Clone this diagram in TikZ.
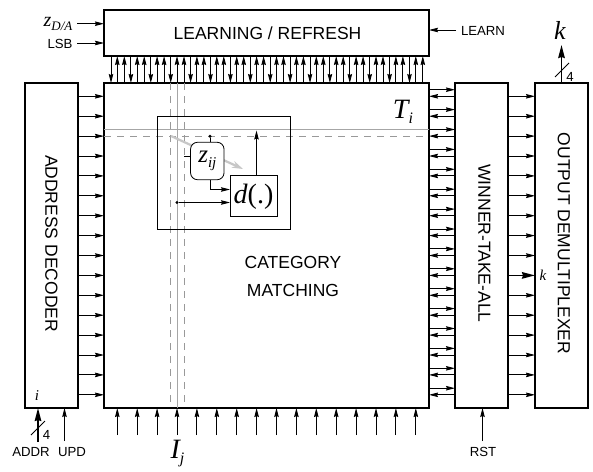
\documentclass[tikz,border=0pt]{standalone}
\usepackage{fontspec}
\setmainfont{Liberation Sans}
\newfontfamily\mathserif[ItalicFont=Liberation Serif Italic]{Liberation Serif}
\usetikzlibrary{arrows.meta,calc}
\newcommand{\mi}[1]{{\mathserif\itshape #1}}
\tikzset{
  x=1pt,y=-1pt,
  blockbox/.style={draw=black,line width=1.8pt,fill=white,inner sep=0pt,outer sep=0pt,anchor=north west,align=center},
  thinbox/.style={draw=black,line width=0.9pt,inner sep=0pt,outer sep=0pt,anchor=north west},
  sig/.style={line width=0.9pt,-{Stealth[length=9pt,width=4.5pt,inset=1pt]}},
  bigsig/.style={line width=1.8pt,-{Stealth[length=13pt,width=6.5pt,inset=1pt]}},
  wire/.style={line width=0.9pt},
  guide/.style={draw=black!35,line width=0.8pt},
  guidedash/.style={draw=black!40,line width=0.7pt,dash pattern=on 7pt off 6pt},
  lab/.style={inner sep=0pt,font=\fontsize{13.2}{15}\selectfont},
  blk/.style={inner sep=0pt,font=\fontsize{17.5}{20}\selectfont},
  ptdot/.style={circle,fill=black,inner sep=0pt,minimum size=3.4pt},
}
\begin{document}
\begin{tikzpicture}
\useasboundingbox (0,0) rectangle (593,471);
\fill[white] (0,0) rectangle (593,471);
% blocks
\node[blockbox,minimum width=325pt,minimum height=46pt] (learn) at (104,10) {};
\node[blk] (learntext) at (267.5,33) {LEARNING / REFRESH};
\node[blockbox,minimum width=325pt,minimum height=325pt] (match) at (104,83) {};
\node[blockbox,minimum width=53pt,minimum height=325pt] (addr) at (25,83) {};
\node[blockbox,minimum width=53pt,minimum height=325pt] (wta) at (455,83) {};
\node[blockbox,minimum width=53pt,minimum height=325pt] (out) at (535,83) {};
\node[blk,rotate=-90] (addrtext) at (51.5,243.5) {ADDRESS DECODER};
\node[blk,rotate=-90] (wtatext) at (484.5,243.5) {WINNER-TAKE-ALL};
\node[blk,rotate=-90] (outtext) at (564,243.5) {OUTPUT DEMULTIPLEXER};
\node[blk,align=center] (cat) at (293,262) {CATEGORY};
\node[blk,align=center] (mat) at (293,290) {MATCHING};
% guides
\coordinate (vt) at (177.5,83); \coordinate (vb) at (177.5,408);
\coordinate (hl) at (104,129.5); \coordinate (hr) at (429,129.5);
\draw[guide] (vt) -- (vb);
\draw[guide] (hl) -- (hr);
\draw[guidedash] ([xshift=-7pt]vt) -- ([xshift=-7pt]vb);
\draw[guidedash] ([xshift=6.5pt]vt) -- ([xshift=6.5pt]vb);
\draw[guidedash] ([yshift=-6.5pt]hl) -- ([yshift=-6.5pt]hr);
% inner cell
\node[thinbox,minimum width=133pt,minimum height=112.5pt] (cell) at (157.3,116.5) {};
\coordinate (ga) at (171,136); \coordinate (gb) at (243,169);
\draw[line width=2.2pt,black!22,-{Stealth[length=11pt,width=7pt]}] (ga) -- (gb);
\node[draw=black,line width=0.8pt,rounded corners=7pt,fill=white,minimum width=33.5pt,minimum height=37.5pt,inner sep=0pt,outer sep=0pt] (z) at (207.3,161) {\fontsize{25}{26}\selectfont\mi{z}\raisebox{-5pt}{\fontsize{15}{15}\selectfont\mi{ij}}};
\node[thinbox,fill=white,minimum width=47pt,minimum height=40.5pt] (d) at (230,175.7) {};
\node[inner sep=0pt] (dtext) at (253.5,197) {\fontsize{28}{29}\selectfont\mi{d}\mathserif(.)};
\node[ptdot] (topdot) at (210,136.3) {};
\node[ptdot] (leftdot) at (177,202.5) {};
\coordinate (zstub) at (184,156);
\draw[wire] (topdot) -- (topdot |- z.north);
\draw[wire] (zstub) -- (zstub -| z.west);
\draw[sig] ([xshift=3pt]z.south) |- ([yshift=-13.8pt]d.north west);
\draw[sig] (leftdot) -- (leftdot -| d.west);
\coordinate (dout) at (256.5,130.5);
\draw[sig] (dout |- d.north) -- (dout);
% row arrows
\foreach \k in {0,...,15}{
  \pgfmathsetmacro{\ry}{-13.3-19.9*\k}
  \pgfmathsetmacro{\ru}{-6.7-19.9*\k}
  \pgfmathsetmacro{\tx}{7+19.9*\k}
  \pgfmathsetmacro{\ua}{13.3+19.9*\k}
  \pgfmathsetmacro{\ub}{20.3+19.9*\k}
  \draw[sig] ([yshift=\ry pt]addr.north east) -- ([yshift=\ry pt]match.north west);
  \draw[sig] ([yshift=\ry pt]wta.north west) -- ([yshift=\ry pt]match.north east);
  \draw[sig] ([yshift=\ru pt]match.north east) -- ([yshift=\ru pt]wta.north west);
  \ifnum\k=9\relax
    \draw[bigsig] ([yshift=\ry pt]wta.north east) -- ([yshift=\ry pt]out.north west);
  \else
    \draw[sig] ([yshift=\ry pt]wta.north east) -- ([yshift=\ry pt]out.north west);
  \fi
  \draw[sig] ([xshift=\tx pt]learn.south west) -- ([xshift=\tx pt]match.north west);
  \draw[sig] ([xshift=\ua pt]match.north west) -- ([xshift=\ua pt]learn.south west);
  \draw[sig] ([xshift=\ub pt]match.north west) -- ([xshift=\ub pt]learn.south west);
  \coordinate (ib) at ($(match.south west)+(\ua,27)$);
  \draw[sig] (ib) -- (ib |- match.south);
}
% external signals
\node[inner sep=0pt] (zda) at (58,24) {\fontsize{20}{21}\selectfont\mi{z}\raisebox{-3.5pt}{\fontsize{13}{13}\selectfont\mi{D/A}}};
\node[lab] (lsb) at (60,44) {LSB};
\node[lab] (learnin) at (483,30.5) {LEARN};
\node[lab] (addrin) at (31,452) {ADDR};
\node[lab] (updin) at (72,452) {UPD};
\node[lab] (rstin) at (483,452) {RST};
\coordinate (zdae) at (77,23.7); \coordinate (lsbe) at (77,43);
\coordinate (learne) at (456,30);
\draw[sig] (zdae) -- (zdae -| learn.west);
\draw[sig] (lsbe) -- (lsbe -| learn.west);
\draw[sig] (learne) -- (learne -| learn.east);
\coordinate (addre) at (38,442); \coordinate (upde) at (64.5,441); \coordinate (rste) at (482.5,441);
\draw[bigsig] (addre) -- (addre |- addr.south);
\draw[sig] (upde) -- (upde |- addr.south);
\draw[sig] (rste) -- (rste |- wta.south);
\coordinate (ke) at (561.5,45);
\draw[bigsig] (ke |- out.north) -- (ke);
% bus slashes
\coordinate (s1a) at (31,435); \coordinate (s1b) at (45,421);
\coordinate (s2a) at (555,77); \coordinate (s2b) at (569,63);
\draw[wire] (s1a) -- (s1b);
\draw[wire] (s2a) -- (s2b);
\node[lab] (four1) at (46.5,434.5) {4};
\node[lab] (four2) at (570,76.5) {4};
% math labels
\node[inner sep=0pt] (kout) at (560,30) {\fontsize{26}{26}\selectfont\mi{k}};
\node[inner sep=0pt] (kin) at (543,275) {\fontsize{15}{15}\selectfont\mi{k}};
\node[inner sep=0pt] (ti) at (403,112) {\fontsize{28}{28}\selectfont\mi{T}\raisebox{-5pt}{\fontsize{16}{16}\selectfont\mi{i}}};
\node[inner sep=0pt] (ij) at (177.5,454) {\fontsize{28}{28}\selectfont\mi{I}\raisebox{-5pt}{\fontsize{16}{16}\selectfont\mi{j}}};
\node[inner sep=0pt] (iaddr) at (37,396) {\fontsize{15}{15}\selectfont\mi{i}};
\end{tikzpicture}
\end{document}
